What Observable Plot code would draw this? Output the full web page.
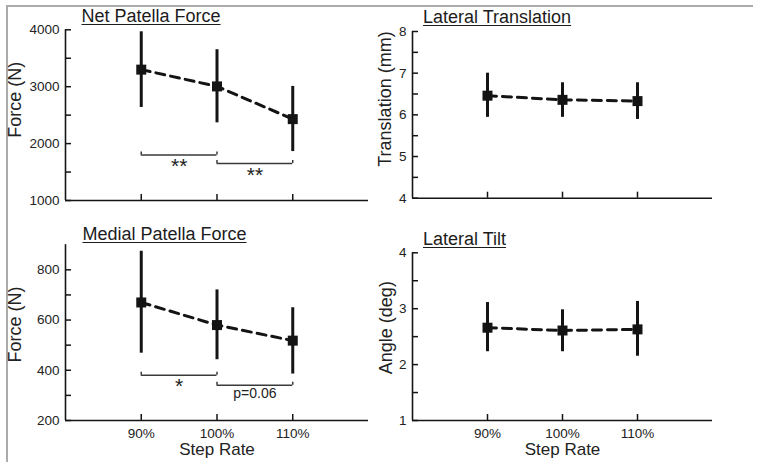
<!DOCTYPE html>
<html>
<head>
<meta charset="utf-8">
<script src="https://cdn.jsdelivr.net/npm/d3@7"></script>
<script src="https://cdn.jsdelivr.net/npm/@observablehq/plot@0.6"></script>
<style>
  body { margin: 0; background: #fff; }
  #fig { position: relative; width: 760px; height: 469px; overflow: hidden; background: #fff;
         font-family: "Liberation Sans", Arial, Helvetica, sans-serif; color: #1c1c1c; }
  .frame { position: absolute; left: 6px; top: 5px; width: 745px; height: 455px;
           border-top: 2px solid #ababab; border-left: 2px solid #ababab; }
  .title { position: absolute; font-size: 18px; line-height: 18px; white-space: nowrap;
           text-decoration: underline; text-decoration-thickness: 1.4px; text-underline-offset: 2px; }
  .panel { position: absolute; }
</style>
</head>
<body>
<div id="fig"><div class="frame"></div></div>
<script>
// ---- data ----
const stepRates = ["90%", "100%", "110%"];
const stepRateValues = [90, 100, 110];

const netForceMean = [3300, 3005, 2430];
const netForceLow  = [2635, 2365, 1860];
const netForceHigh = [3965, 3650, 3005];

const medialForceMean = [670, 580, 518];
const medialForceLow  = [468, 442, 385];
const medialForceHigh = [874, 720, 649];

const latTransMean = [6.46, 6.36, 6.33];
const latTransLow  = [5.94, 5.94, 5.89];
const latTransHigh = [7.00, 6.77, 6.77];

const latTiltMean = [2.66, 2.61, 2.63];
const latTiltLow  = [2.23, 2.23, 2.15];
const latTiltHigh = [3.11, 2.98, 3.13];

const netBrackets = [
  {from: 90, to: 100, y: 1800, label: "**"},
  {from: 100, to: 110, y: 1650, label: "**"}
];
const medialBrackets = [
  {from: 90, to: 100, y: 380, label: "*"},
  {from: 100, to: 110, y: 340, label: "p=0.06"}
];

const netTicks = [1000, 1500, 2000, 2500, 3000, 3500, 4000];
const netTickLabels = [1000, 2000, 3000, 4000];
const medialTicks = [200, 300, 400, 500, 600, 700, 800];
const medialTickLabels = [200, 400, 600, 800];
const transTicks = [4, 4.5, 5, 5.5, 6, 6.5, 7, 7.5, 8];
const transTickLabels = [4, 5, 6, 7, 8];
const tiltTicks = [1, 1.5, 2, 2.5, 3, 3.5, 4];
const tiltTickLabels = [1, 2, 3, 4];

const titles = ["Net Patella Force", "Lateral Translation", "Medial Patella Force", "Lateral Tilt"];
const yLabels = ["Force (N)", "Translation (mm)", "Force (N)", "Angle (deg)"];
const xLabel = "Step Rate";

// ---- drawing ----
const FONT = '"Liberation Sans", Arial, Helvetica, sans-serif';
const INK = "#141414";
const X_DOMAIN = [80, 120];
const TICK_PX = 6;

function panel(o) {
  const rows = stepRateValues.map((x, i) => ({x, mean: o.mean[i], lo: o.low[i], hi: o.high[i]}));
  const [y0, y1] = o.yDomain;
  const innerW = o.width - o.ml - o.mr;
  const innerH = o.height - o.mt - o.mb;
  const xPerPx = (X_DOMAIN[1] - X_DOMAIN[0]) / innerW;
  const yPerPx = (y1 - y0) / innerH;

  const marks = [
    Plot.ruleX([X_DOMAIN[0]], {stroke: INK, strokeWidth: 1.6}),
    Plot.ruleY([y0], {stroke: INK, strokeWidth: 1.6}),
    Plot.ruleY(o.yTicks, {y: d => d, x1: X_DOMAIN[0], x2: X_DOMAIN[0] + TICK_PX * xPerPx, stroke: INK, strokeWidth: 1.5}),
    Plot.ruleX(stepRateValues, {x: d => d, y1: y0, y2: y0 + TICK_PX * yPerPx, stroke: INK, strokeWidth: 1.5}),
    Plot.axisY({ticks: o.yTickLabels, tickSize: 0, tickPadding: 6, tickFormat: d => String(d),
                label: null, fontSize: 13.5, fill: "#222"}),
    Plot.text([o.yLabel], {text: d => d, frameAnchor: "left", textAnchor: "middle", lineAnchor: "middle",
                           dx: o.labelX - o.ml, dy: o.labelDy, rotate: -90, fontSize: 18, fill: "#222"})
  ];

  if (o.xAxis) {
    marks.push(
      Plot.axisX({ticks: stepRateValues, tickSize: 0, tickPadding: 8,
                  tickFormat: d => stepRates[stepRateValues.indexOf(d)],
                  label: null, fontSize: 13.5, fill: "#222"}),
      Plot.text([xLabel], {text: d => d, frameAnchor: "bottom", textAnchor: "middle", lineAnchor: "middle",
                           dy: 29, fontSize: 17, fill: "#222"})
    );
  }

  if (o.brackets) {
    const ends = o.brackets.flatMap(b => [{x: b.from, y: b.y}, {x: b.to, y: b.y}]);
    marks.push(
      Plot.ruleY(o.brackets, {y: "y", x1: "from", x2: "to", stroke: "#3a3a3a", strokeWidth: 1.5}),
      Plot.ruleX(ends, {x: "x", y1: "y", y2: d => d.y + 3 * yPerPx, stroke: "#3a3a3a", strokeWidth: 1.5})
    );
    o.brackets.forEach(b => {
      const star = b.label.startsWith("*");
      marks.push(Plot.text([b], {
        x: d => (d.from + d.to) / 2, y: "y", text: "label",
        fontSize: star ? 21 : 14, lineAnchor: star ? "bottom" : "middle",
        dy: star ? 18 : 8, fill: "#222"
      }));
    });
  }

  marks.push(
    Plot.line(rows, {x: "x", y: "mean", stroke: INK, strokeWidth: 3, strokeDasharray: "9,6"}),
    Plot.ruleX(rows, {x: "x", y1: "lo", y2: "hi", stroke: INK, strokeWidth: 3}),
    Plot.dot(rows, {x: "x", y: "mean", symbol: "square", r: 5.64, fill: INK})
  );

  const svg = Plot.plot({
    width: o.width, height: o.height,
    marginLeft: o.ml, marginRight: o.mr, marginTop: o.mt, marginBottom: o.mb,
    x: {type: "linear", domain: X_DOMAIN, axis: o.xAxis ? undefined : null},
    y: {type: "linear", domain: o.yDomain},
    style: {fontFamily: FONT, fontSize: "13px", color: "#222", background: "transparent", overflow: "visible"},
    marks
  });
  svg.classList.add("panel");
  svg.style.left = o.left + "px";
  svg.style.top = o.top + "px";
  svg.style.maxWidth = "none";
  document.getElementById("fig").appendChild(svg);

  const t = document.createElement("div");
  t.className = "title";
  t.textContent = o.title;
  t.style.left = o.titleX + "px";
  t.style.top = o.titleY + "px";
  document.getElementById("fig").appendChild(t);
}

panel({left: 0, top: 0, width: 380, height: 220, ml: 65, mr: 12, mt: 29.3, mb: 20,
       yDomain: [1000, 4000], yTicks: netTicks, yTickLabels: netTickLabels,
       mean: netForceMean, low: netForceLow, high: netForceHigh,
       yLabel: yLabels[0], labelX: 15, labelDy: -15.5, xAxis: false, brackets: netBrackets,
       title: titles[0], titleX: 81.5, titleY: 7.3});

panel({left: 370, top: 0, width: 390, height: 220, ml: 42, mr: 48, mt: 31, mb: 22.3,
       yDomain: [4, 8], yTicks: transTicks, yTickLabels: transTickLabels,
       mean: latTransMean, low: latTransLow, high: latTransHigh,
       yLabel: yLabels[1], labelX: 15, labelDy: -15.8, xAxis: false,
       title: titles[1], titleX: 423, titleY: 7.8});

panel({left: 0, top: 220, width: 380, height: 249, ml: 65, mr: 12, mt: 24.2, mb: 49,
       yDomain: [200, 900], yTicks: medialTicks, yTickLabels: medialTickLabels,
       mean: medialForceMean, low: medialForceLow, high: medialForceHigh,
       yLabel: yLabels[2], labelX: 15, labelDy: -8, xAxis: true, brackets: medialBrackets,
       title: titles[2], titleX: 82.5, titleY: 225.3});

panel({left: 370, top: 220, width: 390, height: 249, ml: 42, mr: 48, mt: 32.3, mb: 49,
       yDomain: [1, 4], yTicks: tiltTicks, yTickLabels: tiltTickLabels,
       mean: latTiltMean, low: latTiltLow, high: latTiltHigh,
       yLabel: yLabels[3], labelX: 15.5, labelDy: -9, xAxis: true,
       title: titles[3], titleX: 423, titleY: 230.3});
</script>
</body>
</html>
